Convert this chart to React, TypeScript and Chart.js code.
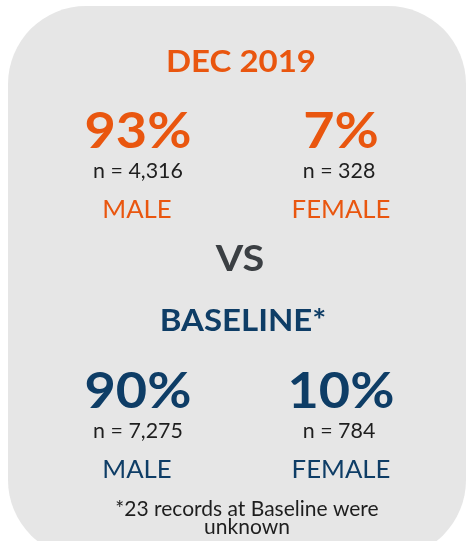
import React, { useEffect, useRef } from "react";
import { Chart, registerables } from "chart.js";

Chart.register(...registerables);

const periods = ["DEC 2019", "BASELINE*"];
const genders = ["MALE", "FEMALE"];
const malePct = [93, 90];
const femalePct = [7, 10];
const maleN = [4316, 7275];
const femaleN = [328, 784];
const separator = "VS";
const footnote = ["*23 records at Baseline were", "unknown"];

const ORANGE = "#e9560f";
const NAVY = "#0e3d66";
const GRAY = "#3b3f43";
const TEXT = "#1e1e1e";
const CARD = "#e6e6e6";
const FONT = "Lato, 'Noto Sans', sans-serif";

const infographic = {
  id: "infographic",
  beforeDraw(chart: any) {
    const ctx = chart.ctx as CanvasRenderingContext2D;
    ctx.save();
    ctx.fillStyle = "#ffffff";
    ctx.fillRect(0, 0, chart.width, chart.height);
    ctx.fillStyle = CARD;
    ctx.beginPath();
    (ctx as any).roundRect(8, 6, 458, 552, 78);
    ctx.fill();

    const text = (s: string, x: number, y: number, size: number, weight: string, color: string, sx = 1) => {
      ctx.save();
      ctx.font = `${weight} ${size}px ${FONT}`;
      ctx.fillStyle = color;
      ctx.textAlign = "center";
      ctx.textBaseline = "alphabetic";
      ctx.translate(x, y);
      ctx.scale(sx, 1);
      ctx.fillText(s, 0, 0);
      ctx.restore();
    };
    const fmt = (v: number) => v.toLocaleString("en-US");
    const colL = 138;
    const colR = 341;
    const blocks = [
      { top: 0, color: ORANGE },
      { top: 260, color: NAVY },
    ];
    blocks.forEach((b, i) => {
      const o = b.top;
      text(periods[i], 241 + (i === 1 ? 2 : 0), 72 + o - (i === 1 ? 1 : 0), 30, "bold", b.color, 1.1);
      text(`${malePct[i]}%`, colL, 148 + o, 50, "bold", b.color, 1.08);
      text(`${femalePct[i]}%`, colR, 148 + o, 50, "bold", b.color, 1.08);
      text(`n = ${fmt(maleN[i])}`, colL, 178 + o, 21, "normal", TEXT, 1.02);
      text(`n = ${fmt(femaleN[i])}`, colR - 2, 178 + o, 21, "normal", TEXT, 1.02);
      text(genders[0], colL - 1, 218 + o, 25, "normal", b.color, 1.03);
      text(genders[1], colR, 218 + o, 25, "normal", b.color, 1.03);
    });
    text(separator, 240, 271, 36, "bold", GRAY, 1.1);
    text(footnote[0], 247, 516, 21, "normal", TEXT, 1.0);
    text(footnote[1], 247, 534, 21, "normal", TEXT, 1.0);
    ctx.restore();
  },
};

export default function App() {
  const ref = useRef<HTMLCanvasElement>(null);
  useEffect(() => {
    if (!ref.current) return;
    const chart = new Chart(ref.current, {
      type: "bar",
      data: {
        labels: genders,
        datasets: periods.map((p, i) => ({
          label: p,
          data: [malePct[i], femalePct[i]],
          backgroundColor: "rgba(0,0,0,0)",
          borderWidth: 0,
        })),
      },
      options: {
        animation: false,
        responsive: false,
        events: [],
        layout: { padding: 0 },
        plugins: { legend: { display: false }, tooltip: { enabled: false }, title: { display: false } },
        scales: { x: { display: false }, y: { display: false, min: 0, max: 100 } },
      },
      plugins: [infographic],
    });
    let alive = true;
    (document as any).fonts?.load?.("bold 20px Lato").then(() => {
      if (alive) chart.draw();
    });
    (document as any).fonts?.load?.("20px Lato").then(() => {
      if (alive) chart.draw();
    });
    return () => {
      alive = false;
      chart.destroy();
    };
  }, []);
  return (
    <div style={{ position: "absolute", left: 0, top: 0, width: 468, height: 541 }}>
      <canvas ref={ref} width={468} height={541} style={{ display: "block", width: 468, height: 541 }} />
    </div>
  );
}
